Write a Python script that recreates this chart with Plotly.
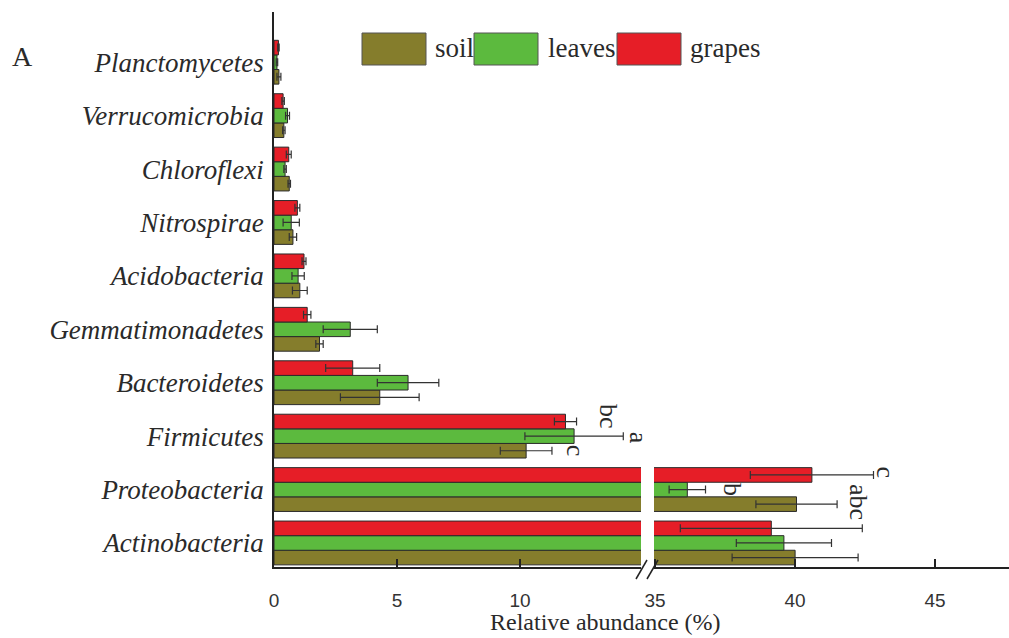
import plotly.graph_objects as go

# ---------------- data ----------------
categories = ["Actinobacteria", "Proteobacteria", "Firmicutes", "Bacteroidetes",
              "Gemmatimonadetes", "Acidobacteria", "Nitrospirae", "Chloroflexi",
              "Verrucomicrobia", "Planctomycetes"]
series_names = ["soil", "leaves", "grapes"]
soil = [40.0, 40.05, 10.25, 4.3, 1.85, 1.05, 0.77, 0.62, 0.4, 0.2]
soil_err = [2.25, 1.45, 1.05, 1.6, 0.15, 0.3, 0.15, 0.05, 0.05, 0.08]
leaves = [39.6, 36.15, 12.2, 5.45, 3.1, 0.98, 0.7, 0.45, 0.55, 0.12]
leaves_err = [1.7, 0.65, 2.0, 1.25, 1.1, 0.25, 0.33, 0.05, 0.08, 0.03]
grapes = [39.15, 40.6, 11.85, 3.2, 1.35, 1.22, 0.95, 0.6, 0.37, 0.18]
grapes_err = [3.25, 2.2, 0.45, 1.1, 0.15, 0.08, 0.1, 0.1, 0.05, 0.03]
colors = ["#857d2c", "#5cba3e", "#e61e27"]

# significance letters (category, series index, letter)
letters_cat = ["Firmicutes", "Firmicutes", "Firmicutes",
               "Proteobacteria", "Proteobacteria", "Proteobacteria"]
letters_series = [0, 1, 2, 0, 1, 2]
letters_text = ["c", "a", "bc", "abc", "b", "c"]

left_ticks = [0, 5, 10]
right_ticks = [35, 40, 45]

# ---------------- layout geometry (pixels) ----------------
W, H = 1009, 638
L, R, T, B = 274, 1009, 12, 567
PW, PH = R - L, B - T


def px(x):
    return (x - L) / PW


def py(y):
    return (B - y) / PH


values = [soil, leaves, grapes]
errors = [soil_err, leaves_err, grapes_err]

fig = go.Figure()
for xa in ["x", "x2"]:
    for i, name in enumerate(series_names):
        fig.add_trace(go.Bar(
            y=categories, x=values[i], orientation="h", name=name,
            xaxis=xa, yaxis="y",
            marker=dict(color=colors[i], line=dict(color="#2a2a2a", width=1)),
            error_x=dict(type="data", array=errors[i], color="#333333",
                         thickness=1.2, width=4),
            showlegend=False,
        ))

axis_common = dict(showline=True, linecolor="#222222", linewidth=1.5,
                   ticks="inside", ticklen=8, tickwidth=1.5, tickcolor="#222222",
                   showgrid=False, zeroline=False, anchor="y",
                   tickfont=dict(family="Liberation Sans", size=19, color="#333333"),
                   ticklabelstandoff=15)

fig.update_layout(
    width=W, height=H,
    margin=dict(l=L, r=W - R, t=T, b=H - B),
    paper_bgcolor="white", plot_bgcolor="white",
    barmode="group", bargap=0.18, bargroupgap=0,
    showlegend=False,
    xaxis=dict(domain=[0, px(641)], range=[0, 14.92], tickvals=left_ticks, **axis_common),
    xaxis2=dict(domain=[px(654), 1], range=[34.96, 47.64], tickvals=right_ticks, **axis_common),
    yaxis=dict(type="category", categoryorder="array", categoryarray=categories,
               range=[-0.45, 9.94], showline=True, linecolor="#222222", linewidth=1.5,
               ticks="", showgrid=False, zeroline=False,
               tickfont=dict(family="Liberation Serif", size=27, color="#2a2a2a", style="italic"),
               ticklabelstandoff=3),
)

# significance letters
bar_px = (1 - 0.18) * PH / 10.39 / 3
series_yshift = [-bar_px, 0, bar_px]
label_xshift = [23, 16, 32, 22, 27, 12]
label_yshift = [0, -2, 5, 2, 0, 3]
for k, (c, s, t) in enumerate(zip(letters_cat, letters_series, letters_text)):
    idx = categories.index(c)
    xv = values[s][idx] + errors[s][idx]
    xa = "x2" if xv > 20 else "x"
    fig.add_annotation(x=xv, y=c, xref=xa, yref="y", text=t, textangle=90,
                       showarrow=False, xanchor="center", yanchor="middle",
                       xshift=label_xshift[k], yshift=series_yshift[s] + label_yshift[k],
                       font=dict(family="Liberation Serif", size=26, color="#2a2a2a"))

# custom legend (large swatches)
sw_x = [362, 474, 617]
txt_x = [433, 546, 688]
for i, name in enumerate(series_names):
    fig.add_shape(type="rect", xref="paper", yref="paper",
                  x0=px(sw_x[i]), x1=px(sw_x[i] + 64), y0=py(65), y1=py(33),
                  fillcolor=colors[i], line=dict(color="#555555", width=1))
    fig.add_annotation(xref="paper", yref="paper", x=px(txt_x[i]), y=py(48),
                       text=name, showarrow=False, xanchor="left", yanchor="middle",
                       font=dict(family="Liberation Serif", size=27, color="#2a2a2a"))

# panel letter and axis title
fig.add_annotation(xref="paper", yref="paper", x=px(10), y=py(57), text="A",
                   showarrow=False, xanchor="left", yanchor="middle",
                   font=dict(family="Liberation Serif", size=28, color="#2a2a2a"))
fig.add_annotation(xref="paper", yref="paper", x=px(605), y=py(637),
                   text="Relative abundance (%)", showarrow=False,
                   xanchor="center", yanchor="bottom",
                   font=dict(family="Liberation Serif", size=24, color="#2a2a2a"))

# axis break marks
for x0 in [636, 647]:
    fig.add_shape(type="line", xref="paper", yref="paper",
                  x0=px(x0), y0=py(579), x1=px(x0 + 11), y1=py(560),
                  line=dict(color="#222222", width=1.5))

fig.write_html("out.html", config={"displayModeBar": False},
               post_script="document.body.style.margin='0';document.body.style.overflow='hidden';")
